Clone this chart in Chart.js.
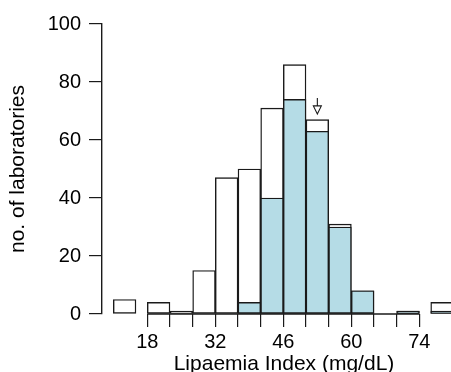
<!DOCTYPE html>
<html>
<head>
<meta charset="utf-8">
<script src="https://cdn.jsdelivr.net/npm/chart.js@4/dist/chart.umd.min.js"></script>
<style>
    html, body { margin: 0; padding: 0; background: #fff; overflow: hidden; }
    /* plot region runs past the right edge of the window, as in the original */
    #wrap { width: 466px; height: 372px; }
</style>
</head>
<body>
<div id="wrap"><canvas id="chart"></canvas></div>
<script>
// bin centres (first and last are the out-of-range bins, drawn apart)
const binMids = [13.33, 20.33, 25, 29.67, 34.33, 39, 43.67, 48.33, 53, 57.67, 62.33, 67, 71.67, 78.67];
const allLabs = [5, 4, 1, 15, 47, 50, 71, 86, 67, 31, 8, 0, 1, 4];
const subsetLabs = [0, 0, 0, 0, 0, 4, 40, 74, 63, 30, 8, 0, 1, 1];
const binEdges = [18, 22.67, 27.33, 32, 36.67, 41.33, 46, 50.67, 55.33, 60, 64.67, 69.33, 74];
const xTickLabels = [18, 32, 46, 60, 74];
const yTicks = [0, 20, 40, 60, 80, 100];
// target value marker
const arrowAt = 53;
const arrowFrom = 74.5;
const arrowTo = 69;

const font = "'Liberation Sans', Arial, Helvetica, sans-serif";
const ink = '#1a1a1a';

const extras = {
    id: 'extras',
    afterDatasetsDraw(chart) {
        const xs = chart.scales.x;
        const ys = chart.scales.y;
        const ctx = chart.ctx;
        ctx.save();
        ctx.strokeStyle = ink;
        ctx.lineWidth = 1.4;
        // x axis line only over the regular bins
        const y0 = ys.getPixelForValue(0);
        ctx.beginPath();
        ctx.moveTo(xs.getPixelForValue(binEdges[0]), y0);
        ctx.lineTo(xs.getPixelForValue(binEdges[binEdges.length - 1]), y0);
        ctx.stroke();
        // arrow
        const ax = xs.getPixelForValue(arrowAt);
        const top = ys.getPixelForValue(arrowFrom);
        const tip = ys.getPixelForValue(arrowTo);
        ctx.lineWidth = 1.1;
        ctx.beginPath();
        ctx.moveTo(ax, top);
        ctx.lineTo(ax, tip - 8);
        ctx.stroke();
        ctx.beginPath();
        ctx.moveTo(ax - 4, tip - 8);
        ctx.lineTo(ax + 4, tip - 8);
        ctx.lineTo(ax, tip);
        ctx.closePath();
        ctx.fillStyle = '#fff';
        ctx.fill();
        ctx.stroke();
        ctx.restore();
    }
};

new Chart(document.getElementById('chart'), {
    type: 'bar',
    data: {
        datasets: [{
            label: 'subset',
            data: binMids.map((x, i) => ({ x: x, y: subsetLabs[i] })),
            backgroundColor: '#b5dce6',
            borderColor: ink,
            borderWidth: 1.4,
            borderSkipped: false,
            grouped: false,
            order: 0,
            barPercentage: 1,
            categoryPercentage: 1
        }, {
            label: 'all',
            data: binMids.map((x, i) => ({ x: x, y: allLabs[i] })),
            backgroundColor: '#fff',
            borderColor: ink,
            borderWidth: 1.4,
            borderSkipped: false,
            grouped: false,
            order: 1,
            barPercentage: 1,
            categoryPercentage: 1
        }]
    },
    options: {
        responsive: true,
        maintainAspectRatio: false,
        animation: false,
        layout: { padding: { top: 24, right: 0, left: 0, bottom: 0 } },
        plugins: {
            legend: { display: false },
            tooltip: { enabled: false }
        },
        scales: {
            x: {
                type: 'linear',
                min: 8.67,
                max: 83.6,
                offset: false,
                border: { display: false },
                grid: {
                    offset: false,
                    drawOnChartArea: false,
                    drawTicks: true,
                    tickLength: 13,
                    color: ink,
                    lineWidth: 1.2
                },
                afterBuildTicks(scale) {
                    scale.ticks = binEdges.map(v => ({ value: v }));
                },
                ticks: {
                    autoSkip: false,
                    maxRotation: 0,
                    padding: 3,
                    color: '#000',
                    font: { family: font, size: 20 },
                    callback: (v) => xTickLabels.includes(v) ? String(v) : ''
                },
                title: {
                    display: true,
                    text: 'Lipaemia Index (mg/dL)',
                    color: '#000',
                    font: { family: font, size: 21, lineHeight: 1.2 },
                    padding: { top: 0, bottom: -5 }
                },
                afterFit(scale) { scale.height = 58; }
            },
            y: {
                min: 0,
                max: 100,
                border: { display: true, color: ink, width: 1.4 },
                grid: {
                    drawOnChartArea: false,
                    drawTicks: true,
                    tickLength: 13,
                    color: ink,
                    lineWidth: 1.2
                },
                afterBuildTicks(scale) {
                    scale.ticks = yTicks.map(v => ({ value: v }));
                },
                ticks: {
                    padding: 8,
                    color: '#000',
                    font: { family: font, size: 20 }
                },
                title: {
                    display: true,
                    text: 'no. of laboratories',
                    color: '#000',
                    font: { family: font, size: 21, lineHeight: 1.2 },
                    padding: { top: 6, bottom: 0 }
                },
                afterFit(scale) { scale.width = 102; }
            }
        }
    },
    plugins: [extras]
});
</script>
</body>
</html>
